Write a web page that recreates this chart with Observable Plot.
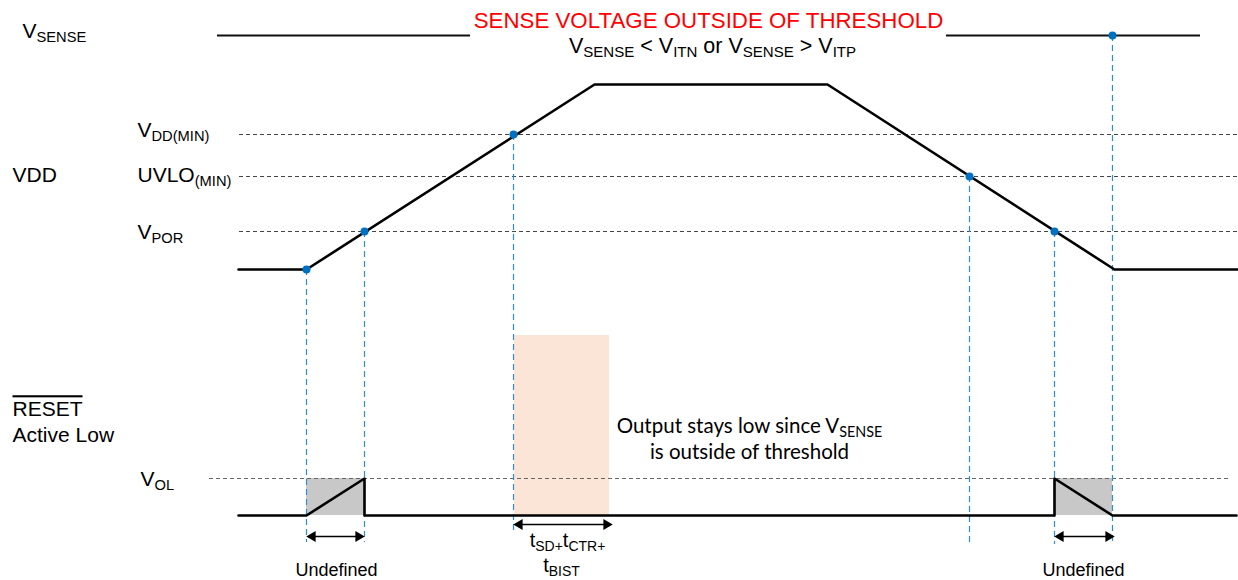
<!DOCTYPE html>
<html>
<head>
<meta charset="utf-8">
<script src="https://cdn.jsdelivr.net/npm/d3@7"></script>
<script src="https://cdn.jsdelivr.net/npm/@observablehq/plot@0.6"></script>
<style>
  html, body { margin: 0; padding: 0; background: #fff; }
  #chart svg { display: block; }
</style>
</head>
<body>
<div id="chart"></div>
<script>
// Diagram units: x = time (arbitrary units), y = level (arbitrary units, 0 at top)
const vsenseLevel = 35;
const vsenseSegments = [[217, 470], [946, 1200]];
const vddT = [238, 306, 594, 827, 1114, 1238];
const vddV = [269, 269, 84, 84, 269, 269];
const thresholdNames = ["V_{DD(MIN)}", "UVLO_{(MIN)}", "V_{POR}"];
const thresholdLevels = [134, 176, 231];
const thresholdStart = 239, thresholdEnd = 1238;
const crossT = [306, 364, 513, 969, 1054, 1112];
const crossV = [269, 231, 134, 176, 231, 35];
const guideEnd = [542, 542, 530, 542, 544, 544];
const resetT = [238, 306, 364, 364, 1054, 1054, 1112, 1236];
const resetV = [515, 515, 478, 515, 515, 478, 515, 515];
const volLevel = 478, volStart = 209, volEnd = 1228;
const resetLow = 515;
const undefinedWindows = [[306, 364], [1054, 1112]];
const delayWindow = [514, 609], delayTop = 335;
const spans = [[308, 362, 536], [515, 610, 524], [1056, 1112, 536]];
const spanLabels = [["Undefined", 336, 570], ["Undefined", 1083, 570]];

const W = 1238, H = 580;
const FONT = "Liberation Sans, Arial, sans-serif";

const vddData = vddT.map((t, i) => ({t, v: vddV[i]}));
const resetData = resetT.map((t, i) => ({t, v: resetV[i]}));
const crossData = crossT.map((t, i) => ({t, v: crossV[i], end: guideEnd[i]}));
const thrData = thresholdLevels.map((v, i) => ({v, name: thresholdNames[i]}));

const leftLabels = [
  {text: "V_{SENSE}", t: 22, v: 31, size: 21},
  {text: "VDD", t: 12, v: 175, size: 21},
  {text: "V_{DD(MIN)}", t: 137, v: 130, size: 21},
  {text: "UVLO_{(MIN)}", t: 137, v: 175, size: 21},
  {text: "V_{POR}", t: 137, v: 232, size: 21},
  {text: "RESET", t: 12, v: 409, size: 21},
  {text: "Active Low", t: 12, v: 435, size: 21},
  {text: "V_{OL}", t: 140, v: 479, size: 21}
];

const chart = Plot.plot({
  width: W, height: H,
  marginTop: 0, marginRight: 0, marginBottom: 0, marginLeft: 0,
  x: {domain: [0, W], axis: null},
  y: {domain: [H, 0], axis: null},
  style: {fontFamily: FONT, background: "white", overflow: "visible"},
  marks: [
    // highlight windows
    Plot.rect([delayWindow], {x1: d => d[0], x2: d => d[1], y1: delayTop, y2: resetLow, fill: "#fbe5d6"}),
    Plot.rect(undefinedWindows, {x1: d => d[0], x2: d => d[1], y1: volLevel, y2: resetLow, fill: "#c8c8c8"}),
    // thresholds
    Plot.ruleY(thrData, {y: "v", x1: thresholdStart, x2: thresholdEnd, stroke: "#444", strokeWidth: 1, strokeDasharray: "4,3"}),
    Plot.ruleY([volLevel], {x1: volStart, x2: volEnd, stroke: "#666", strokeWidth: 1, strokeDasharray: "4,3"}),
    // blue guides
    Plot.ruleX(crossData, {x: "t", y1: "v", y2: "end", stroke: "#2f8ad8", strokeWidth: 1.2, strokeDasharray: "6,4"}),
    // VSENSE
    Plot.ruleY(vsenseSegments, {y: vsenseLevel, x1: d => d[0], x2: d => d[1], stroke: "#111", strokeWidth: 2}),
    // VDD
    Plot.line(vddData, {x: "t", y: "v", stroke: "#000", strokeWidth: 2.6}),
    // RESET
    Plot.line(resetData, {x: "t", y: "v", stroke: "#000", strokeWidth: 2.6}),
    // crossing dots
    Plot.dot(crossData, {x: "t", y: "v", r: 4, fill: "#0070c0"}),
    // double arrows
    Plot.link(spans, {x1: d => d[0] + 3, x2: d => d[1] - 3, y1: d => d[2], y2: d => d[2], stroke: "#000", strokeWidth: 1.5}),
    Plot.dot(spans, {x: d => d[1], y: d => d[2], symbol: "triangle", rotate: 90, r: 4, fill: "#000", dx: -4}),
    Plot.dot(spans, {x: d => d[0], y: d => d[2], symbol: "triangle", rotate: -90, r: 4, fill: "#000", dx: 4}),
    // titles
    Plot.text(["SENSE VOLTAGE OUTSIDE OF THRESHOLD"], {x: 708, y: 20, text: d => d, fill: "#ff0000", fontSize: 22.3, textAnchor: "middle"}),
    Plot.text(["V_{SENSE} < V_{ITN} or V_{SENSE} > V_{ITP}"], {x: 712, y: 46, text: d => d, fill: "#000", fontSize: 21.5, textAnchor: "middle"}),
    // left labels
    Plot.text(leftLabels, {x: "t", y: "v", text: "text", fontSize: "size", textAnchor: "start", fill: "#000"}),
    // span labels
    Plot.text(spanLabels, {x: d => d[1], y: d => d[2], text: d => d[0], fontSize: 18, textAnchor: "middle", fill: "#000"}),
    Plot.text(["t_{SD+}t_{CTR+}"], {x: 567, y: 540, text: d => d, fontSize: 20, textAnchor: "middle", fill: "#000"}),
    Plot.text(["t_{BIST}"], {x: 561, y: 565, text: d => d, fontSize: 20, textAnchor: "middle", fill: "#000"}),
    // annotation
    Plot.text(["Output stays low since V_{SENSE}", "is outside of threshold"], {x: 749, y: (d, i) => [426, 452][i], text: d => d, fontSize: 20.5, fontFamily: "Lato, Open Sans, sans-serif", textAnchor: "middle", fill: "#000"})
  ]
});

// render subscripts as tspans, overline for RESET
d3.select(chart).selectAll("text").each(function() {
  const t = this.textContent;
  if (t === "RESET") { this.style.textDecoration = "overline"; return; }
  if (!t.includes("_{")) return;
  const sel = d3.select(this);
  sel.text(null);
  const parts = t.split(/(_\{[^}]*\})/);
  let shifted = false;
  for (const p of parts) {
    if (!p) continue;
    if (p.startsWith("_{")) {
      sel.append("tspan").attr("font-size", "0.7em").attr("dy", shifted ? null : 4).text(p.slice(2, -1));
      shifted = true;
    } else {
      sel.append("tspan").attr("dy", shifted ? -4 : null).text(p);
      shifted = false;
    }
  }
});

document.getElementById("chart").appendChild(chart);
</script>
</body>
</html>
